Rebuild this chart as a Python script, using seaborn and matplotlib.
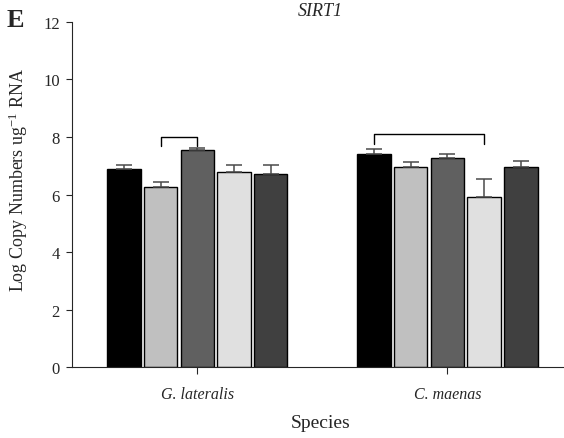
import matplotlib
matplotlib.use("Agg")
import matplotlib.pyplot as plt
import seaborn as sns
import pandas as pd
import numpy as np

species = ["G. lateralis", "C. maenas"]
treatments = ["T1", "T2", "T3", "T4", "T5"]
colors = ["#000000", "#c0c0c0", "#606060", "#e0e0e0", "#404040"]
# means per treatment, for each species
means_glat = [6.88, 6.27, 7.55, 6.78, 6.70]
means_cmae = [7.42, 6.97, 7.28, 5.93, 6.96]
# upper error (SE) per bar
err_glat = [0.15, 0.18, 0.05, 0.23, 0.31]
err_cmae = [0.16, 0.17, 0.13, 0.61, 0.21]
# significance brackets: (species index, treatment a, treatment b, top, leg bottom)
brackets = [(0, 1, 2, 8.01, 7.69), (1, 0, 3, 8.09, 7.76)]
yticks = [0, 2, 4, 6, 8, 10, 12]

sns.set_style("ticks")
plt.rcParams["font.family"] = ["Liberation Serif", "DejaVu Serif"]
plt.rcParams["mathtext.fontset"] = "stix"

rows = []
for sp, ms, es in [(species[0], means_glat, err_glat), (species[1], means_cmae, err_cmae)]:
    for t, m, e in zip(treatments, ms, es):
        rows.append({"Species": sp, "Treatment": t, "value": m, "err": e})
df = pd.DataFrame(rows)

fig = plt.figure(figsize=(5.64, 4.39), dpi=100)
ax = fig.add_axes([0.128, 0.1606, 0.88, 0.788])

sns.barplot(data=df, x="Species", y="value", hue="Treatment", hue_order=treatments,
            palette=colors, order=species, width=0.734, gap=0.09, errorbar=None,
            edgecolor="black", linewidth=1.0, legend=False, saturation=1, ax=ax)

# map patches to data
bars = [p for p in ax.patches if p.get_height() > 0]
bars.sort(key=lambda p: p.get_x())
flat = []
for si in range(len(species)):
    for ti in range(len(treatments)):
        flat.append((si, ti))
centers = {}
for p, (si, ti) in zip(bars, flat):
    cx = p.get_x() + p.get_width() / 2
    centers[(si, ti)] = cx
    r = df[(df.Species == species[si]) & (df.Treatment == treatments[ti])].iloc[0]
    ax.errorbar(cx, r["value"], yerr=[[0], [r["err"]]], fmt="none",
                ecolor="#4a4a4a", elinewidth=1.1, capsize=5.5, capthick=1.1, zorder=1)

for si, a, b, top, bot in brackets:
    xa, xb = centers[(si, a)], centers[(si, b)]
    ax.plot([xa, xa, xb, xb], [bot, top, top, bot], color="black", lw=1.0)

ax.set_xlim(-0.5, 1.484)
ax.set_ylim(0, 12)
ax.set_yticks(yticks)
sns.despine(ax=ax)
ax.tick_params(axis="both", direction="out", length=4, width=0.8)
ax.tick_params(axis="y", labelsize=12, pad=5)
ax.tick_params(axis="x", labelsize=11.5, length=5, pad=8)
for lab in ax.get_xticklabels():
    lab.set_fontstyle("italic")
ax.set_xlabel("Species", fontsize=14, labelpad=9)
ax.set_ylabel("Log Copy Numbers ug$^{\\mathregular{-1}}$ RNA", fontsize=13)
ax.yaxis.set_label_coords(-0.085, 0.545)
ax.set_title("SIRT1", fontstyle="italic", fontsize=13, pad=5)
fig.text(0.012, 0.953, "E", fontsize=19, fontweight="bold", va="center", ha="left")

fig.savefig("out.png", dpi=100)
